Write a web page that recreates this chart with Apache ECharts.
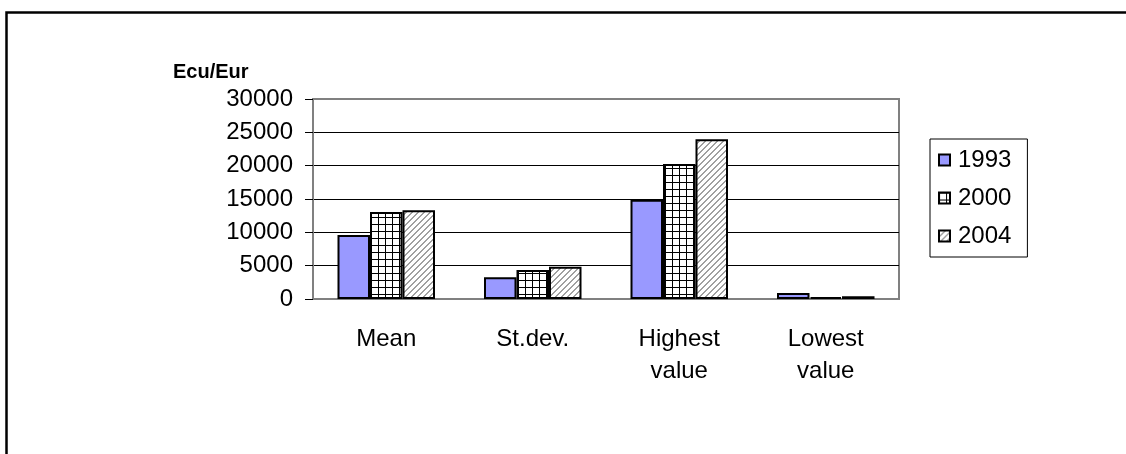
<!DOCTYPE html>
<html>
<head>
<meta charset="utf-8">
<script src="https://cdn.jsdelivr.net/npm/echarts@6/dist/echarts.min.js"></script>
<style>
html,body{margin:0;padding:0;background:#fff;}
#chart{width:1126px;height:454px;}
</style>
</head>
<body>
<div id="chart"></div>
<script>
// ---- data ----
const categories = ['Mean', 'St.dev.', 'Highest\nvalue', 'Lowest\nvalue'];
const seriesNames = ['1993', '2000', '2004'];
const values1993 = [9600, 3250, 14900, 900];
const values2000 = [13050, 4350, 20250, 300];
const values2004 = [13300, 4850, 23950, 400];
const yMin = 0, yMax = 30000, yInterval = 5000;
const yAxisName = 'Ecu/Eur';

// ---- patterns ----
function gridPattern() {
  const c = document.createElement('canvas');
  c.width = 7; c.height = 7;
  const g = c.getContext('2d');
  g.fillStyle = '#fff'; g.fillRect(0, 0, 7, 7);
  g.fillStyle = '#000';
  g.fillRect(0, 0, 7, 1);
  g.fillRect(0, 0, 1, 7);
  return c;
}
function hatchPattern() {
  const n = 6;
  const c = document.createElement('canvas');
  c.width = n; c.height = n;
  const g = c.getContext('2d');
  g.fillStyle = '#fff'; g.fillRect(0, 0, n, n);
  g.fillStyle = '#a0a0a0';
  for (let i = 0; i < n; i++) {
    g.fillRect(i, n - 1 - i, 1, 1);
    g.fillRect(i, (n - i) % n, 1, 1);
  }
  return c;
}

const fills = [
  '#9999FF',
  { image: gridPattern(), repeat: 'repeat' },
  { image: hatchPattern(), repeat: 'repeat' }
];
const dataSets = [values1993, values2000, values2004];

const chart = echarts.init(document.getElementById('chart'), null, { renderer: 'canvas' });
const font = 'Liberation Sans, Arial, Helvetica, sans-serif';

chart.setOption({
  animation: false,
  textStyle: { fontFamily: font },
  graphic: [
    {
      type: 'rect',
      shape: { x: 6.5, y: 12.5, width: 1300, height: 700 },
      style: { fill: 'none', stroke: '#000', lineWidth: 2.5 },
      silent: true
    },
    {
      type: 'text',
      left: 173, top: 62,
      style: { text: yAxisName, font: 'bold 20px ' + font, fill: '#000' }
    }
  ],
  grid: {
    left: 313, right: 227, top: 99, bottom: 155,
    show: true, borderColor: '#808080', borderWidth: 2, backgroundColor: 'transparent'
  },
  legend: {
    orient: 'vertical',
    left: 930, top: 139,
    data: seriesNames,
    itemWidth: 11, itemHeight: 11,
    itemGap: 10,
    padding: [7, 16, 7, 8],
    borderColor: '#000', borderWidth: 1,
    backgroundColor: '#fff',
    icon: 'rect',
    textStyle: { fontSize: 24, color: '#000', lineHeight: 28, fontFamily: font, padding: [0, 0, 0, 3] }
  },
  xAxis: {
    type: 'category',
    data: categories,
    axisLine: { lineStyle: { color: '#808080', width: 2 } },
    axisTick: { length: 7, lineStyle: { color: '#000', width: 1 } },
    axisLabel: { fontSize: 24, color: '#000', lineHeight: 32, margin: 24, fontFamily: font, interval: 0 },
    splitLine: { show: false }
  },
  yAxis: {
    type: 'value',
    min: yMin, max: yMax, interval: yInterval,
    axisLine: { show: true, lineStyle: { color: '#808080', width: 2 } },
    axisTick: { show: true, length: 8, lineStyle: { color: '#000', width: 1 } },
    axisLabel: { fontSize: 24, color: '#000', margin: 20, fontFamily: font, formatter: v => String(v) },
    splitLine: { lineStyle: { color: ['#000', '#000', '#000', '#000', '#000', '#000', '#808080'], width: 1 } }
  },
  series: seriesNames.map((name, i) => ({
    name: name,
    type: 'bar',
    data: dataSets[i],
    barWidth: 32.5,
    barGap: '0%',
    itemStyle: { color: fills[i], borderColor: '#000', borderWidth: 2 }
  }))
});
</script>
</body>
</html>
